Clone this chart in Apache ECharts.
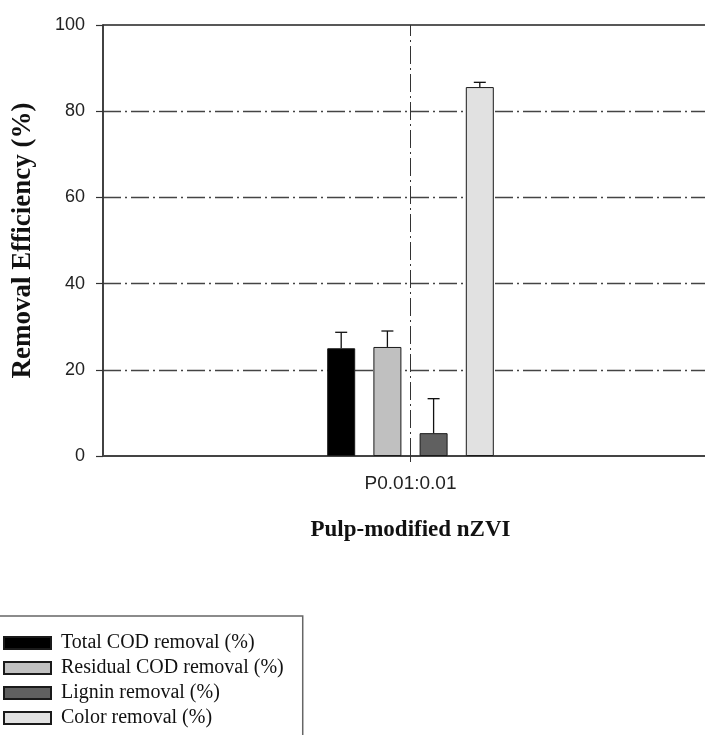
<!DOCTYPE html>
<html>
<head>
<meta charset="utf-8">
<script src="https://cdn.jsdelivr.net/npm/echarts@6/dist/echarts.min.js"></script>
<style>
html,body{margin:0;padding:0;background:#fff;}
#chart{width:705px;height:735px;}
</style>
</head>
<body>
<div id="chart"></div>
<script>
// ---- data ----
const categories = ['P0.01:0.01'];
const seriesNames = ['Total COD removal (%)', 'Residual COD removal (%)', 'Lignin removal (%)', 'Color removal (%)'];
const seriesValues = [25.0, 25.3, 5.3, 85.6];
const seriesErrors = [3.7, 3.7, 8.0, 1.1];
const yMin = 0, yMax = 100, yInterval = 20;

// ---- style ----
const colors = ['#000000', '#c0c0c0', '#606060', '#e1e1e1'];
const BAR_W = 28;
const BAR_GAP = 0.65;
const dashDot = [18, 4, 2, 4];
const serif = "'Liberation Serif','Times New Roman',serif";
const sans = "'Liberation Sans',Arial,sans-serif";

const chart = echarts.init(document.getElementById('chart'));

const n = seriesNames.length;
const totalW = n * BAR_W + (n - 1) * BAR_W * BAR_GAP;
function barOffset(i) {
  return -totalW / 2 + BAR_W / 2 + i * BAR_W * (1 + BAR_GAP);
}

const barSeries = seriesNames.map((name, i) => ({
  name: name,
  type: 'bar',
  barWidth: BAR_W,
  barGap: (BAR_GAP * 100) + '%',
  data: [seriesValues[i]],
  itemStyle: { color: colors[i], borderColor: '#1a1a1a', borderWidth: 1 },
  z: 3
}));

const errData = seriesNames.map((name, i) => [0, seriesValues[i], seriesErrors[i], i]);

const errorSeries = {
  type: 'custom',
  name: 'err',
  z: 4,
  silent: true,
  data: errData,
  encode: { x: 0, y: 1 },
  markLine: {
    silent: true,
    symbol: 'none',
    label: { show: false },
    lineStyle: { color: '#333', type: dashDot, width: 1 },
    data: [{ xAxis: 0 }]
  },
  renderItem: function (params, api) {
    const cat = api.value(0);
    const v = api.value(1);
    const e = api.value(2);
    const idx = api.value(3);
    const base = api.coord([cat, v]);
    const top = api.coord([cat, v + e]);
    const x = base[0] + barOffset(idx);
    const cap = 6;
    const st = { stroke: '#111', lineWidth: 1.3 };
    return {
      type: 'group',
      children: [
        { type: 'line', shape: { x1: x, y1: base[1], x2: x, y2: top[1] }, style: st },
        { type: 'line', shape: { x1: x - cap, y1: top[1], x2: x + cap, y2: top[1] }, style: st }
      ]
    };
  }
};

chart.setOption({
  animation: false,
  backgroundColor: '#fff',
  grid: {
    left: 103, width: 615, top: 25, height: 431,
    outerBoundsMode: 'none',
    containLabel: false,
    show: true, borderColor: '#222', borderWidth: 1.3, backgroundColor: 'transparent'
  },
  legend: {
    data: seriesNames,
    orient: 'vertical',
    icon: 'rect',
    left: -12,
    top: 616,
    height: 300,
    padding: [17, 19, 60, 15],
    itemWidth: 47,
    itemHeight: 12,
    itemGap: 5,
    borderColor: '#666',
    borderWidth: 1.5,
    backgroundColor: '#fff',
    selectedMode: false,
    textStyle: { fontFamily: serif, fontSize: 20, color: '#111', padding: [0, 0, 0, 5] }
  },
  xAxis: {
    type: 'category',
    data: categories,
    name: 'Pulp-modified nZVI',
    nameLocation: 'middle',
    nameGap: 63,
    nameTextStyle: { fontFamily: serif, fontWeight: 'bold', fontSize: 23, color: '#111' },
    axisLine: { lineStyle: { color: '#444', width: 2 } },
    axisTick: { show: true, alignWithLabel: true, length: 6, lineStyle: { color: '#333', width: 1 } },
    axisLabel: { fontFamily: sans, fontSize: 19, color: '#222', margin: 18 },
    splitLine: { show: false }
  },
  yAxis: {
    type: 'value',
    min: yMin, max: yMax, interval: yInterval,
    name: 'Removal Efficiency (%)',
    nameLocation: 'middle',
    nameRotate: 90,
    nameGap: 66,
    nameTextStyle: { fontFamily: serif, fontWeight: 'bold', fontSize: 27, color: '#111' },
    axisLine: { show: true, lineStyle: { color: '#333', width: 1.5 } },
    axisTick: { show: true, inside: false, length: 7, lineStyle: { color: '#333', width: 1.2 } },
    axisLabel: { fontFamily: sans, fontSize: 18, color: '#222', margin: 18 },
    splitLine: {
      show: true, showMinLine: false, showMaxLine: false,
      lineStyle: { color: '#444', width: 1.3, type: dashDot }
    }
  },
  series: barSeries.concat([errorSeries])
});
</script>
</body>
</html>
